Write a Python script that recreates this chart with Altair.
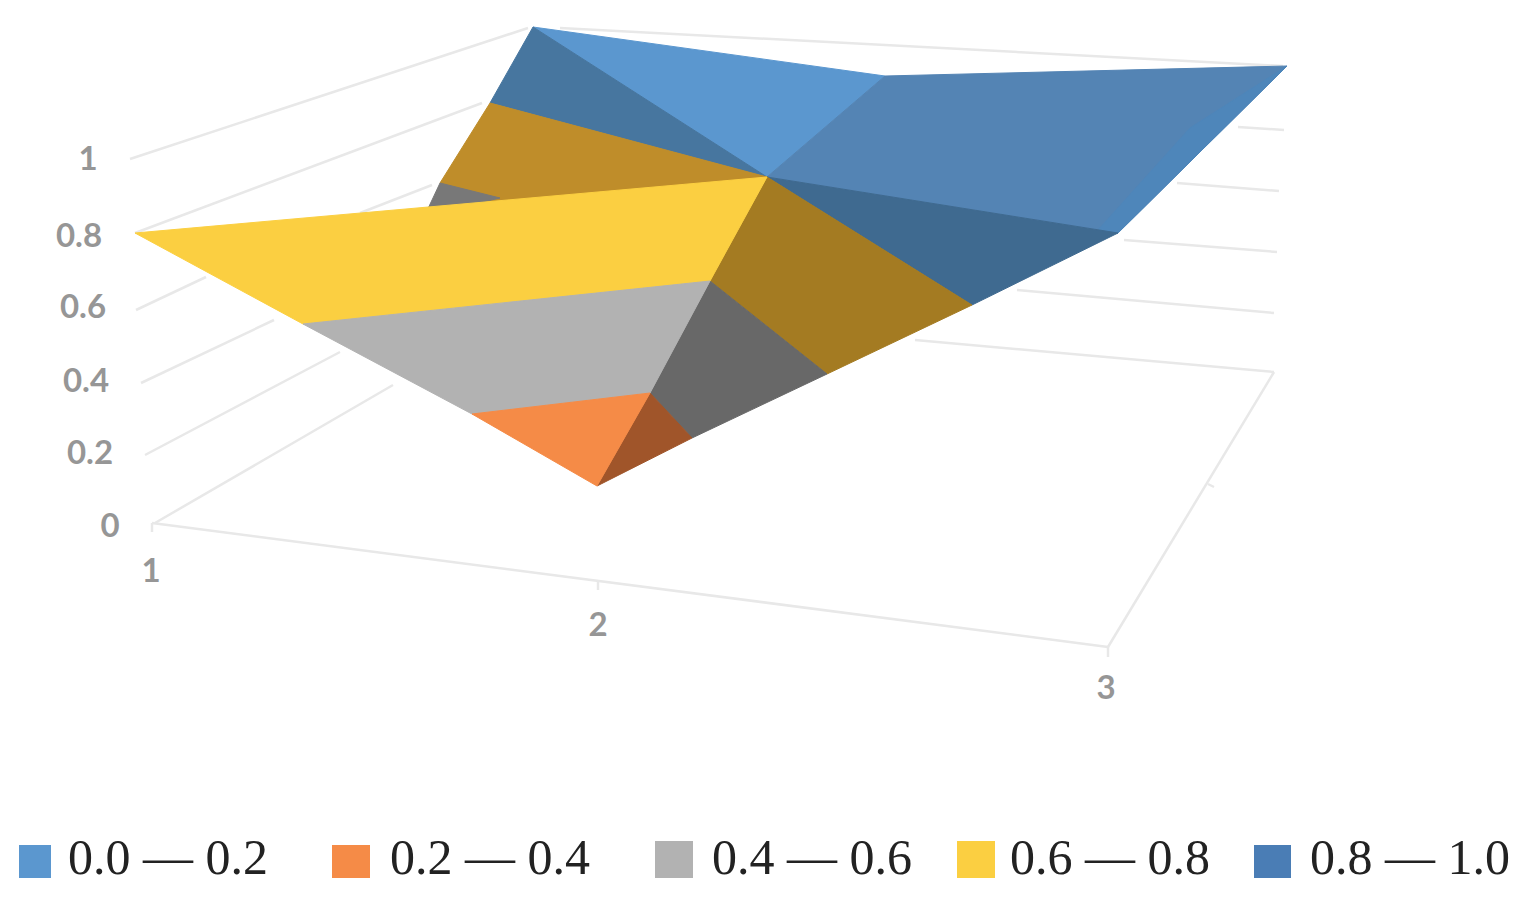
import altair as alt
import pandas as pd

# Surface facets: (band, fill, [(x, y), ...])
facets = [
    ("0.8 - 1.0 back", "#5B97CF", [(533, 27), (885, 76), (767, 177)]),
    ("0.8 - 1.0 back side", "#47769F", [(533, 27), (767, 177), (490, 103)]),
    ("0.6 - 0.8 back side", "#BF8D2A", [(490, 103), (767, 177), (500, 210), (440, 183)]),
    ("0.4 - 0.6 back side", "#787878", [(440, 183), (500, 198), (425, 215)]),
    ("0.8 - 1.0 right", "#5484B4", [(767, 177), (885, 76), (1287, 66), (1118, 233)]),
    ("0.8 - 1.0 right edge", "#4E86BA", [(1287, 66), (1118, 233), (1098, 230), (1190, 128)]),
    ("0.8 - 1.0 right lower", "#3F6A90", [(767, 177), (1118, 233), (972, 305)]),
    ("0.6 - 0.8 right lower", "#A47B22", [(767, 177), (972, 305), (827, 374), (710, 281)]),
    ("0.4 - 0.6 right lower", "#686868", [(710, 281), (827, 374), (692, 438), (650, 393)]),
    ("0.2 - 0.4 right lower", "#A0552A", [(650, 393), (692, 438), (597, 486)]),
    ("0.6 - 0.8 front", "#FBCF41", [(135, 233), (767, 177), (710, 281), (303, 324)]),
    ("0.4 - 0.6 front", "#B2B2B2", [(303, 324), (710, 281), (650, 393), (472, 414)]),
    ("0.2 - 0.4 front", "#F58B47", [(472, 414), (650, 393), (597, 486)]),
]

# Wall and floor lines visible around the surface
grid_segments = [
    (130, 159, 528, 28), (135, 233, 482, 103), (136, 310, 206, 277), (360, 213, 432, 185),
    (141, 383, 274, 320), (145, 455, 340, 352), (155, 523, 393, 385),
    (560, 28, 1283, 66), (1238, 127, 1284, 130), (1177, 183, 1279, 191),
    (1124, 240, 1277, 252), (1017, 290, 1274, 313), (915, 340, 1274, 372),
    (1274, 372, 1108, 647), (152, 523, 1108, 647),
    (152, 523, 152, 532), (598, 582, 598, 590), (1108, 647, 1108, 657), (1208, 484, 1214, 487),
]

z_labels = ["1", "0.8", "0.6", "0.4", "0.2", "0"]
z_label_x = [88, 79, 83, 86, 90, 110]
z_label_y = [160, 237, 308, 382, 454, 527]
x_labels = ["1", "2", "3"]
x_label_x = [151, 598, 1106]
x_label_y = [572, 626, 689]

legend_labels = ["0.0 — 0.2", "0.2 — 0.4", "0.4 — 0.6", "0.6 — 0.8", "0.8 — 1.0"]
legend_colors = ["#5B97CF", "#F58B47", "#B2B2B2", "#FBCF41", "#4A7DB5"]
legend_x0 = [19, 332, 655, 957, 1254]
legend_x1 = [51, 370, 693, 995, 1291]
legend_y0 = [845, 845, 841, 841, 845]
legend_y1 = [878, 878, 878, 878, 878]
legend_text_x = [68, 390, 712, 1010, 1310]
legend_text_y = 859

xs = alt.Scale(domain=[8, 1513], range=[0, 1505], nice=False, zero=False)
ys = alt.Scale(domain=[886, 8], range=[878, 0], nice=False, zero=False)
X = lambda f="x": alt.X(f"{f}:Q", scale=xs, axis=None)
Y = lambda f="y": alt.Y(f"{f}:Q", scale=ys, axis=None)

rows = []
for i, (name, fill, pts) in enumerate(facets):
    for j, (px, py) in enumerate(pts):
        rows.append({"facet": f"{i:02d} {name}", "fill": fill, "x": px, "y": py, "v": j})
facet_df = pd.DataFrame(rows)

grid_df = pd.DataFrame(grid_segments, columns=["x", "y", "x2", "y2"])
grid = alt.Chart(grid_df).mark_rule(color="#E8E8E8", strokeWidth=2.5).encode(
    x=X(), y=Y(), x2="x2:Q", y2="y2:Q"
)

surface = alt.Chart(facet_df).mark_line(interpolate="linear-closed", strokeWidth=1).encode(
    x=X(), y=Y(),
    detail="facet:N",
    order="v:Q",
    fill=alt.Fill("fill:N", scale=None),
    stroke=alt.Stroke("fill:N", scale=None),
)

axis_df = pd.DataFrame({
    "t": z_labels + x_labels,
    "x": z_label_x + x_label_x,
    "y": z_label_y + x_label_y,
})
axis_text = alt.Chart(axis_df).mark_text(
    font="Lato", fontSize=33, fontWeight="bold", color="#969696", baseline="middle", align="center"
).encode(x=X(), y=Y(), text="t:N")

legend_df = pd.DataFrame({
    "x": legend_x0, "x2": legend_x1, "y": legend_y0, "y2": legend_y1,
    "c": legend_colors, "t": legend_labels, "tx": legend_text_x,
    "ty": [legend_text_y] * 5,
})
legend_sq = alt.Chart(legend_df).mark_rect().encode(
    x=X(), y=Y(), x2="x2:Q", y2="y2:Q", color=alt.Color("c:N", scale=None)
)
legend_tx = alt.Chart(legend_df).mark_text(
    font="Liberation Serif", fontSize=50, color="#222222", align="left", baseline="middle"
).encode(x=X("tx"), y=Y("ty"), text="t:N")

chart = alt.layer(grid, surface, axis_text, legend_sq, legend_tx).properties(
    width=1505, height=878, padding=0, autosize="none"
).configure_view(stroke=None)

chart.save("out.html", embed_options={"renderer": "svg", "actions": False})
